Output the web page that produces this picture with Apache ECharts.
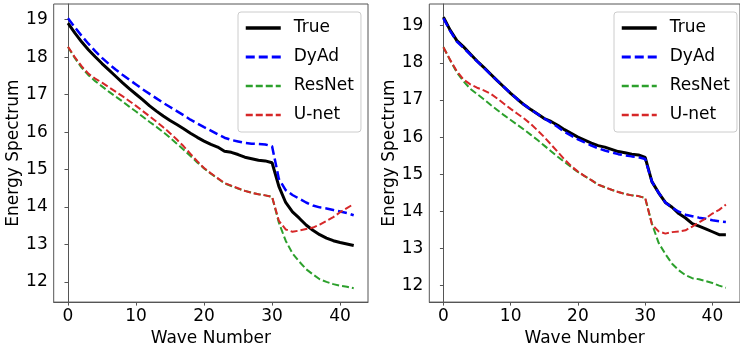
<!DOCTYPE html>
<html>
<head>
<meta charset="utf-8">
<script src="https://cdn.jsdelivr.net/npm/echarts@6/dist/echarts.min.js"></script>
<style>html,body{margin:0;padding:0;background:#fff}#c{width:740px;height:352px}</style>
</head>
<body>
<div id="c"></div>
<script>
const waveNumber = [0,1,2,3,4,5,6,7,8,9,10,11,12,13,14,15,16,17,18,19,20,21,22,23,24,25,26,27,28,29,30,31,32,33,34,35,36,37,38,39,40,41,42];
const seriesNames = ['True', 'DyAd', 'ResNet', 'U-net'];
const xTicks = [0, 10, 20, 30, 40];
const yTicks = [12, 13, 14, 15, 16, 17, 18, 19];

// Left panel
const leftTrue = [18.91,18.65,18.41,18.2,18.01,17.83,17.66,17.49,17.32,17.16,17.01,16.86,16.7,16.56,16.43,16.31,16.2,16.09,15.97,15.86,15.76,15.67,15.6,15.49,15.46,15.4,15.33,15.29,15.25,15.23,15.18,14.55,14.12,13.87,13.7,13.52,13.38,13.26,13.17,13.1,13.05,13.01,12.97];
const leftDyAd = [19.04,18.8,18.57,18.36,18.16,17.98,17.82,17.67,17.53,17.4,17.27,17.14,17.02,16.9,16.78,16.67,16.56,16.45,16.33,16.23,16.13,16.04,15.94,15.85,15.79,15.75,15.71,15.69,15.68,15.67,15.62,14.75,14.45,14.32,14.22,14.12,14.04,13.99,13.96,13.92,13.88,13.84,13.78];
const leftResNet = [18.27,17.98,17.72,17.52,17.36,17.22,17.08,16.95,16.82,16.68,16.55,16.41,16.27,16.14,16.0,15.85,15.69,15.53,15.36,15.19,15.03,14.89,14.76,14.63,14.56,14.49,14.43,14.38,14.34,14.31,14.27,13.58,13.1,12.76,12.54,12.34,12.2,12.07,12.0,11.94,11.9,11.87,11.83];
const leftUnet = [18.28,18.0,17.76,17.56,17.43,17.32,17.2,17.08,16.96,16.83,16.7,16.56,16.42,16.28,16.13,15.97,15.8,15.62,15.42,15.22,15.04,14.9,14.77,14.64,14.57,14.5,14.43,14.38,14.34,14.31,14.27,13.63,13.4,13.34,13.37,13.41,13.45,13.53,13.63,13.73,13.86,13.97,14.08];

// Right panel
const rightTrue = [19.23,18.88,18.6,18.43,18.24,18.05,17.88,17.7,17.52,17.35,17.18,17.02,16.87,16.74,16.62,16.5,16.42,16.32,16.2,16.1,16.0,15.92,15.84,15.77,15.73,15.67,15.61,15.58,15.54,15.52,15.45,14.8,14.5,14.24,14.11,13.94,13.82,13.67,13.6,13.53,13.45,13.37,13.37];
const rightDyAd = [19.2,18.86,18.57,18.4,18.22,18.04,17.87,17.69,17.52,17.35,17.18,17.02,16.87,16.74,16.62,16.5,16.39,16.27,16.14,16.04,15.94,15.86,15.77,15.7,15.64,15.59,15.54,15.51,15.48,15.46,15.41,14.8,14.5,14.24,14.1,13.99,13.91,13.87,13.83,13.8,13.76,13.73,13.71];
const rightResNet = [18.42,18.07,17.74,17.5,17.3,17.16,17.02,16.87,16.73,16.59,16.46,16.33,16.2,16.06,15.92,15.77,15.62,15.47,15.33,15.19,15.06,14.95,14.84,14.72,14.65,14.58,14.52,14.47,14.43,14.41,14.36,13.67,13.15,12.85,12.59,12.41,12.28,12.2,12.17,12.12,12.07,12.0,11.94];
const rightUnet = [18.42,18.08,17.77,17.55,17.42,17.33,17.26,17.17,17.04,16.9,16.76,16.63,16.5,16.35,16.18,16.0,15.8,15.6,15.4,15.22,15.07,14.95,14.84,14.72,14.65,14.58,14.52,14.47,14.43,14.41,14.36,13.65,13.46,13.4,13.44,13.46,13.49,13.59,13.7,13.81,13.94,14.04,14.18];

const FONT = 'DejaVu Sans';
const FRAME = '#555';
const styles = {
  'True':   { color: '#000000', width: 3, type: 'solid' },
  'DyAd':   { color: '#0000ff', width: 2.5, type: [9, 4] },
  'ResNet': { color: '#2ca02c', width: 2, type: [7, 3] },
  'U-net':  { color: '#d62728', width: 2, type: [7, 3] }
};

function pairs(arr) { return waveNumber.map((x, i) => [x, arr[i]]); }

function xAxis(gi) {
  return {
    type: 'value', gridIndex: gi, min: -2.1, max: 44.1,
    name: 'Wave Number', nameLocation: 'middle', nameGap: 22,
    nameTextStyle: { fontFamily: FONT, fontSize: 17, color: '#000' },
    axisLine: { show: true, lineStyle: { color: FRAME, width: 1 } },
    axisTick: { show: true, length: 3.5, customValues: xTicks, lineStyle: { color: FRAME } },
    axisLabel: { customValues: xTicks, margin: 6, fontFamily: FONT, fontSize: 17, color: '#000' },
    splitLine: { show: false }
  };
}
function yAxis(gi, mn, mx) {
  return {
    type: 'value', gridIndex: gi, min: mn, max: mx,
    name: 'Energy Spectrum', nameLocation: 'middle', nameGap: 23, nameRotate: 90,
    nameTextStyle: { fontFamily: FONT, fontSize: 17, color: '#000' },
    axisLine: { show: true, lineStyle: { color: FRAME, width: 1 } },
    axisTick: { show: true, length: 3.5, customValues: yTicks, lineStyle: { color: FRAME } },
    axisLabel: { customValues: yTicks, margin: 6, fontFamily: FONT, fontSize: 17, color: '#000' },
    splitLine: { show: false }
  };
}
function mkSeries(name, arr, gi) {
  const s = styles[name];
  return {
    name: name, type: 'line', xAxisIndex: gi, yAxisIndex: gi,
    data: pairs(arr), symbol: 'none', showSymbol: false, smooth: false,
    lineStyle: { color: s.color, width: s.width, type: s.type },
    itemStyle: { color: s.color },
    z: name === 'True' ? 2 : 3
  };
}
function legend(left) {
  return {
    show: true,
    orient: 'vertical', left: left, top: 12,
    data: seriesNames.map(n => ({ name: n, lineStyle: { color: styles[n].color, width: styles[n].width + 0.5, type: styles[n].type } })),
    itemWidth: 35, itemHeight: 14, itemGap: 11,
    padding: [7, 7, 8, 6],
    itemStyle: { opacity: 0 },
    backgroundColor: 'rgba(255,255,255,0.85)', borderColor: '#cccccc', borderWidth: 1, borderRadius: 3,
    textStyle: { fontFamily: FONT, fontSize: 17, color: '#000', lineHeight: 18, padding: [0, 0, 0, 8] },
    selectedMode: false
  };
}

const chart = echarts.init(document.getElementById('c'), null, { renderer: 'canvas' });
chart.setOption({
  animation: false,
  backgroundColor: '#fff',
  grid: [
    { left: 53.7, top: 4, width: 314.3, height: 306, show: true, borderColor: FRAME, borderWidth: 1, backgroundColor: 'transparent' },
    { left: 429.3, top: 4, width: 315, height: 306, show: true, borderColor: FRAME, borderWidth: 1, backgroundColor: 'transparent' }
  ],
  xAxis: [xAxis(0), xAxis(1)],
  yAxis: [yAxis(0, 11.46, 19.42), yAxis(1, 11.555, 19.585)],
  legend: [legend(238), legend(614)],
  series: [
    mkSeries('True', leftTrue, 0), mkSeries('DyAd', leftDyAd, 0), mkSeries('ResNet', leftResNet, 0), mkSeries('U-net', leftUnet, 0),
    mkSeries('True', rightTrue, 1), mkSeries('DyAd', rightDyAd, 1), mkSeries('ResNet', rightResNet, 1), mkSeries('U-net', rightUnet, 1)
  ]
});
</script>
</body>
</html>
